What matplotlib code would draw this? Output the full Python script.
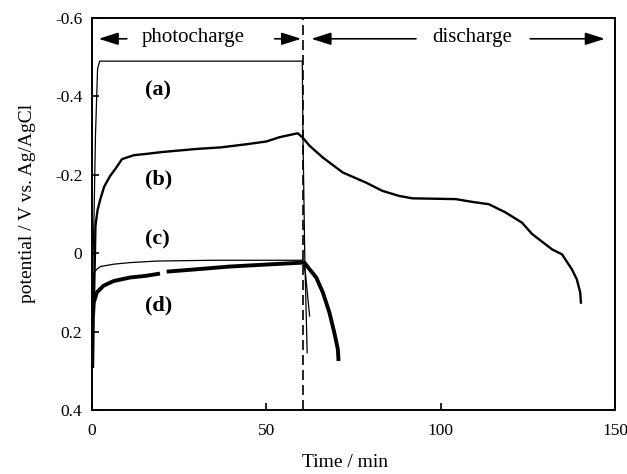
import matplotlib
matplotlib.use("Agg")
import matplotlib.pyplot as plt
import numpy as np

plt.rcParams['font.family'] = ['Liberation Serif', 'DejaVu Serif']
plt.rcParams['axes.unicode_minus'] = False

# ---- data ----
t_a = [0.2, 0.6, 1.0, 1.6, 2.2, 10.0, 30.0, 50.0, 60.3, 60.5, 61.0, 61.7]
v_a = [0.05, -0.10, -0.30, -0.47, -0.49, -0.49, -0.49, -0.49, -0.49, -0.30, 0.0, 0.254]

t_b = [0.3, 0.5, 0.8, 1.0, 1.6, 2.4, 3.5, 5.2, 6.7, 8.6, 12.0, 15.2, 20.0, 30.0, 37.0,
       44.3, 50.0, 53.8, 59.0, 60.3, 62.4, 66.2, 71.9, 78.6, 83.3, 88.1, 91.9, 104.3,
       109.0, 113.8, 118.6, 123.3, 126.2, 131.9, 134.8, 137.6, 139.0, 140.0, 140.2]
v_b = [0.29, 0.15, 0.02, -0.07, -0.11, -0.138, -0.17, -0.197, -0.215, -0.24, -0.25,
       -0.253, -0.258, -0.266, -0.27, -0.278, -0.285, -0.296, -0.306, -0.296, -0.274,
       -0.244, -0.206, -0.18, -0.159, -0.146, -0.14, -0.138, -0.131, -0.125, -0.104,
       -0.078, -0.049, -0.01, 0.003, 0.041, 0.066, 0.10, 0.126]

t_c = [0.2, 0.5, 1.4, 2.4, 6.2, 10.9, 18.6, 34.7, 50.0, 60.5, 61.2, 62.4]
v_c = [0.10, 0.05, 0.041, 0.034, 0.028, 0.024, 0.02, 0.018, 0.018, 0.018, 0.05, 0.16]

t_d = [0.3, 0.5, 1.4, 3.3, 6.2, 10.9, 15.2, 19.5, np.nan, 21.4, 30.0, 39.5, 51.9, 60.5,
       60.9, 62.4, 64.3, 66.2, 68.1, 69.5, 70.5, 70.7]
v_d = [0.16, 0.126, 0.10, 0.083, 0.071, 0.062, 0.058, 0.052, np.nan, 0.047, 0.041, 0.034,
       0.028, 0.024, 0.024, 0.041, 0.062, 0.10, 0.152, 0.203, 0.245, 0.275]

x_ticks = [0, 50, 100, 150]
x_ticklabels = ['0', '50', '100', '150']
y_ticks = [-0.6, -0.4, -0.2, 0.0, 0.2, 0.4]
y_ticklabels = ['-0.6', '-0.4', '-0.2', '0', '0.2', '0.4']

switch_time = 60.5
curve_labels = ['(a)', '(b)', '(c)', '(d)']
label_pos_t = [18.9, 19.2, 18.8, 19.0]
label_pos_v = [-0.415, -0.187, -0.036, 0.133]

# ---- figure ----
fig = plt.figure(figsize=(6.27, 4.74), dpi=100)
ax = fig.add_axes([0.1467, 0.135, 0.8343, 0.827])

ax.plot(t_a, v_a, color='black', lw=0.9)
ax.plot(t_b, v_b, color='black', lw=1.7)
ax.plot(t_c, v_c, color='black', lw=0.9)
ax.plot(t_d, v_d, color='black', lw=2.8, solid_capstyle='butt')

ax.axvline(switch_time, color='black', lw=1.2, ls=(0, (6, 3)))

for lab, tx, vy in zip(curve_labels, label_pos_t, label_pos_v):
    ax.text(tx, vy, lab, fontsize=16, fontweight='bold', ha='center', va='center')

arr = dict(arrowstyle='-|>,head_length=1.2,head_width=0.38', color='black', lw=1.2,
           shrinkA=0, shrinkB=0, mutation_scale=10)
ya = -0.547
ax.annotate('', xy=(1.9, ya), xytext=(10.0, ya), arrowprops=arr)
ax.annotate('', xy=(60.0, ya), xytext=(52.4, ya), arrowprops=arr)
ax.annotate('', xy=(62.9, ya), xytext=(92.9, ya), arrowprops=arr)
ax.annotate('', xy=(147.1, ya), xytext=(125.7, ya), arrowprops=arr)
ax.text(29.0, ya - 0.004, 'photocharge', fontsize=15, ha='center', va='center')
ax.text(108.9, ya - 0.004, 'discharge', fontsize=15, ha='center', va='center')

ax.set_xlim(0, 150)
ax.set_ylim(0.4, -0.6)
ax.set_xticks(x_ticks)
ax.set_xticklabels(x_ticklabels)
ax.set_yticks(y_ticks)
ax.set_yticklabels(y_ticklabels)
ax.tick_params(direction='in', length=5, width=1.2, labelsize=12.5)
ax.tick_params(axis='x', pad=9)
ax.tick_params(axis='y', pad=7)
for s in ax.spines.values():
    s.set_linewidth(1.4)

ax.set_xlabel('Time / min', fontsize=14, va='center')
ax.xaxis.set_label_coords(0.484, -0.135)
ax.set_ylabel('potential / V vs. Ag/AgCl', fontsize=14, va='center')
ax.yaxis.set_label_coords(-0.124, 0.526)

fig.savefig('out.png', dpi=100)
